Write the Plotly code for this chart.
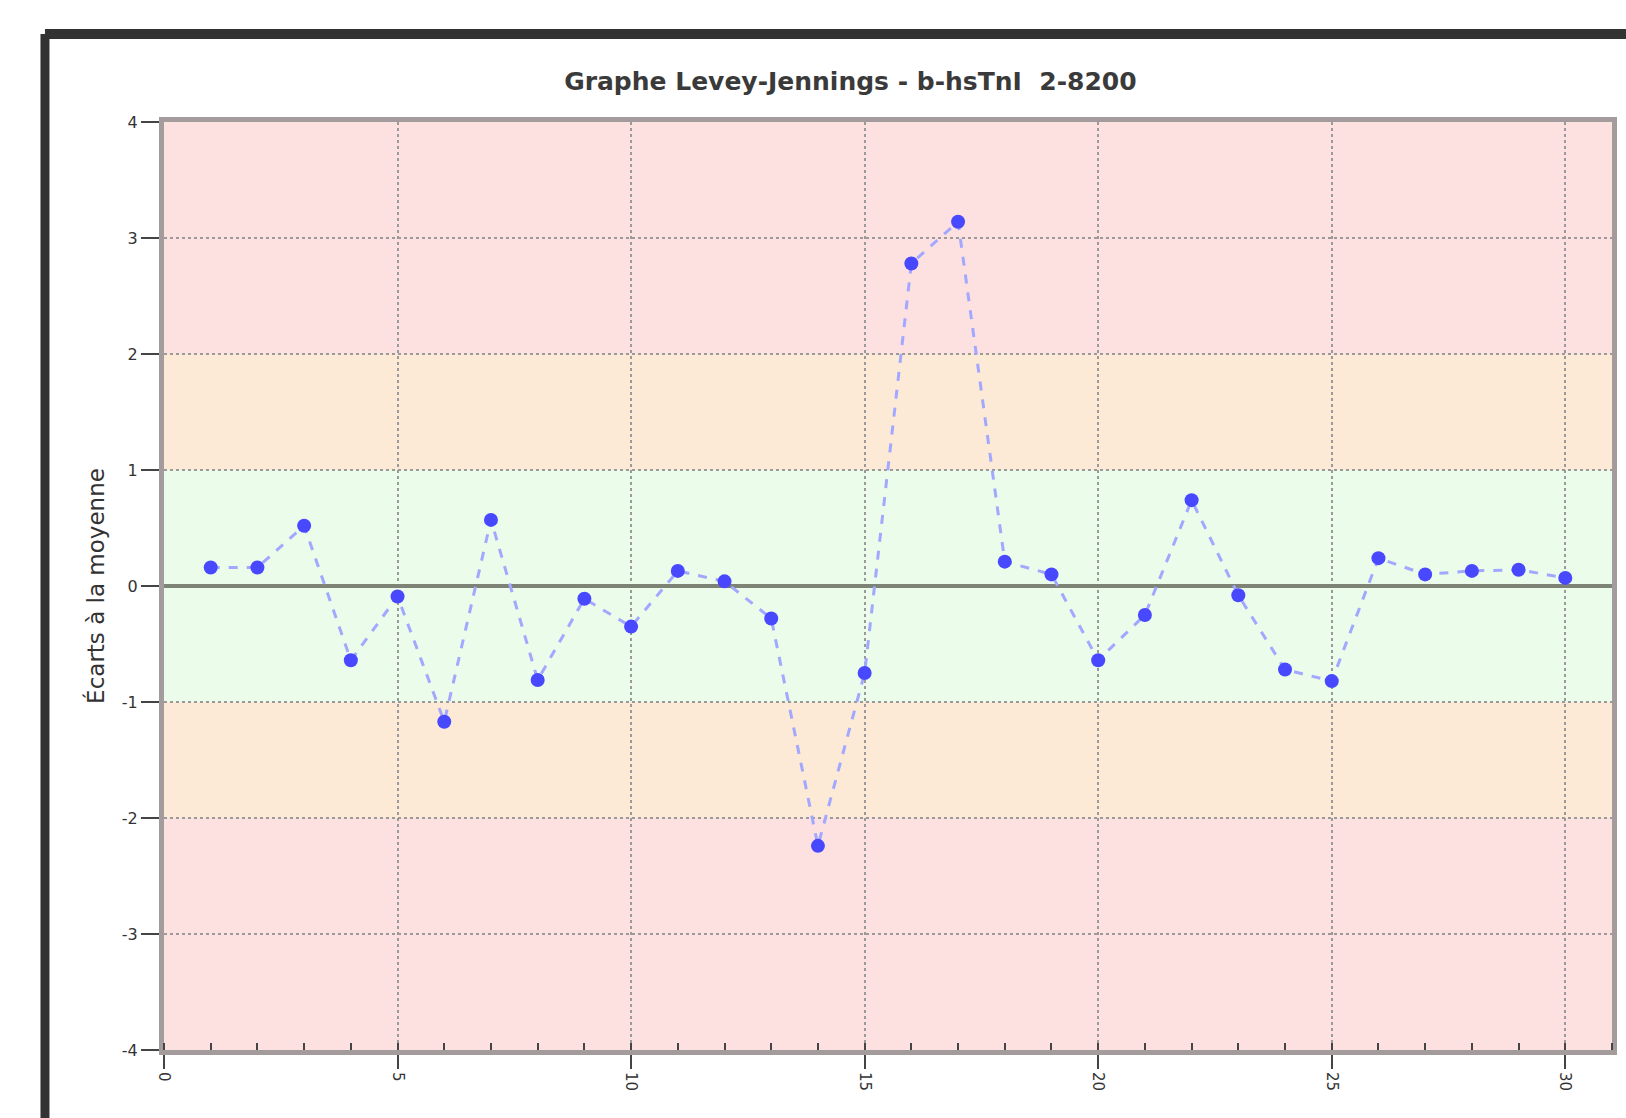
import plotly.graph_objects as go

x_runs = list(range(1, 31))
ecarts = [0.16, 0.16, 0.52, -0.64, -0.09, -1.17, 0.57, -0.81, -0.11, -0.35,
          0.13, 0.04, -0.28, -2.24, -0.75, 2.78, 3.14, 0.21, 0.10, -0.64,
          -0.25, 0.74, -0.08, -0.72, -0.82, 0.24, 0.10, 0.13, 0.14, 0.07]
y_ticks = [-4, -3, -2, -1, 0, 1, 2, 3, 4]
x_ticks = [0, 5, 10, 15, 20, 25, 30]
title_text = "Graphe Levey-Jennings - b-hsTnI  2-8200"
y_title = "Écarts à la moyenne"

bands = [(-4, -2, "#fde1e1"), (-2, -1, "#fcead6"), (-1, 1, "#ebfceb"),
         (1, 2, "#fcead6"), (2, 4, "#fde1e1")]

fig = go.Figure()
fig.add_trace(go.Scatter(
    x=x_runs, y=ecarts, mode="lines+markers",
    line=dict(color="#a3a8ff", width=3, dash="dash"),
    marker=dict(symbol="circle", size=14, color="#4848ff"),
    showlegend=False,
))

shapes = []
for y0, y1, c in bands:
    shapes.append(dict(type="rect", xref="paper", yref="y", x0=0, x1=1, y0=y0, y1=y1,
                       fillcolor=c, line=dict(width=0), layer="below"))
# outer window frame
shapes.append(dict(type="line", xref="paper", yref="paper", x0=-0.0822, x1=1.2,
                   y0=1.0948, y1=1.0948, line=dict(color="#333333", width=10)))
shapes.append(dict(type="line", xref="paper", yref="paper", x0=-0.0822, x1=-0.0822,
                   y0=1.0948, y1=-0.2, line=dict(color="#333333", width=9)))

fig.update_layout(
    width=1626, height=1118,
    margin=dict(l=164, r=14, t=122, b=68),
    paper_bgcolor="white", plot_bgcolor="white",
    shapes=shapes,
    title=dict(text="<b>" + title_text + "</b>", x=0.523, xref="container", xanchor="center",
               y=1 - 81 / 1118, yanchor="middle",
               font=dict(family="DejaVu Sans", size=25, color="#3a3a3a")),
    font=dict(family="DejaVu Sans", color="#333333"),
)

fig.update_xaxes(
    range=[0, 31], tickvals=x_ticks, ticktext=[str(v) for v in x_ticks],
    tickangle=90, tickfont=dict(size=15),
    showgrid=True, gridcolor="#9a9a9a", griddash="dot", gridwidth=1.5,
    showline=True, linecolor="#a49c9c", linewidth=5, mirror=True,
    ticks="outside", ticklen=14, tickcolor="#444444", tickwidth=1.5,
    minor=dict(dtick=1, tick0=0, ticks="inside", ticklen=7, tickcolor="#444444", showgrid=False),
    zeroline=False, automargin=False,
)
fig.update_yaxes(
    range=[-4, 4], tickvals=y_ticks, ticktext=[str(v) for v in y_ticks],
    tickfont=dict(size=16),
    showgrid=True, gridcolor="#9a9a9a", griddash="dot", gridwidth=1.5,
    showline=True, linecolor="#a49c9c", linewidth=5, mirror=True,
    ticks="outside", ticklen=18, tickcolor="#444444", tickwidth=1.5,
    zeroline=True, zerolinecolor="#7d8475", zerolinewidth=4,
    title=dict(text=y_title, font=dict(size=23), standoff=12),
    automargin=False,
)

fig.write_html("out.html")
